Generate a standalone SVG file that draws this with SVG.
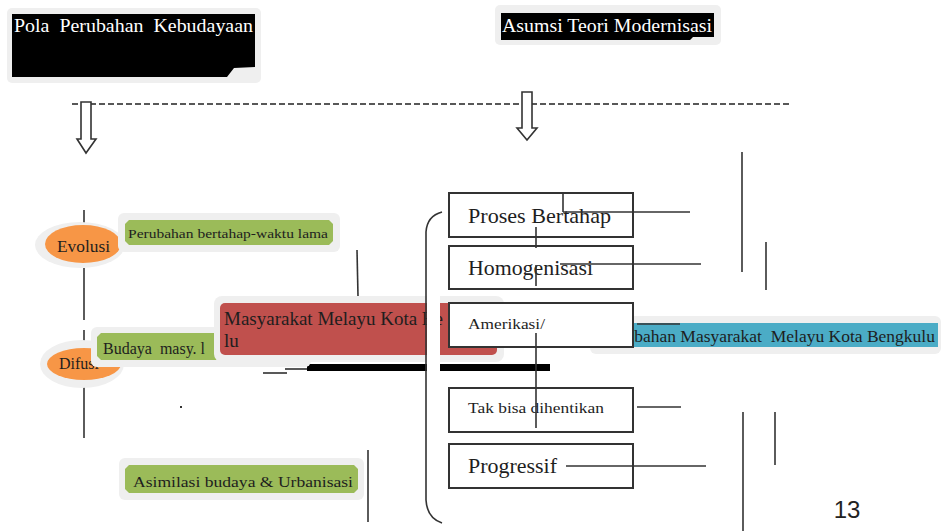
<svg xmlns="http://www.w3.org/2000/svg" width="941" height="531" viewBox="0 0 941 531">
<style>
.halo{fill:#efefef}
.t{font-family:"Liberation Serif","DejaVu Serif",serif;fill:#1e1e1e}
.w{font-family:"Liberation Serif","DejaVu Serif",serif;fill:#ffffff}
.ln{stroke:#333;stroke-width:1.6;fill:none}
.box{fill:#fff;stroke:#333;stroke-width:2}
.green{fill:#9bbb59}
.orange{fill:#f79646}
.red{fill:#c0504d}
.blue{fill:#4bacc6}
</style>
<rect width="941" height="531" fill="#fff"/>

<g id="title1">
<rect class="halo" x="7" y="8" width="254" height="75" rx="5"/>
<polygon points="12,14 255,14 255,67 234,68 227,77 12,77" fill="#000"/>
<text class="w" x="14" y="32" font-size="18" xml:space="preserve" textLength="239" lengthAdjust="spacingAndGlyphs">Pola  Perubahan  Kebudayaan</text>
</g>

<g id="title2">
<rect class="halo" x="495" y="5" width="226" height="40" rx="5"/>
<polygon points="501,13 714,13 714,37 693,37 690,40 501,40" fill="#000"/>
<text class="w" x="502" y="32" font-size="18" textLength="210" lengthAdjust="spacingAndGlyphs">Asumsi Teori Modernisasi</text>
</g>

<g id="connectors">
<line x1="72" y1="104" x2="792" y2="104" stroke="#222" stroke-width="1.4" stroke-dasharray="6,3"/>
<polygon points="81,102 91,102 91,139 96,139 86,153 77,139 81,139" fill="#fff" stroke="#333" stroke-width="1.6"/>
<polygon points="522,92 532,92 532,128 537,128 527,140 517,128 522,128" fill="#fff" stroke="#333" stroke-width="1.6"/>
<line class="ln" x1="84" y1="210" x2="84" y2="223"/>
<line class="ln" x1="84" y1="268" x2="84" y2="320"/>
<line class="ln" x1="84" y1="330" x2="84" y2="342"/>
<line class="ln" x1="84" y1="387" x2="84" y2="438"/>
<line class="ln" x1="357" y1="250" x2="358" y2="296"/>
<line class="ln" x1="368" y1="450" x2="368" y2="522"/>
<line class="ln" x1="742" y1="152" x2="742" y2="272"/>
<line class="ln" x1="766" y1="242" x2="766" y2="290"/>
<line class="ln" x1="743" y1="412" x2="743" y2="531"/>
<line class="ln" x1="775" y1="412" x2="775" y2="465"/>
<rect x="180" y="406" width="2" height="2" fill="#333"/>
</g>

<g id="evolusi">
<ellipse class="halo" cx="80" cy="245" rx="45" ry="23"/>
<ellipse class="orange" cx="83" cy="244" rx="38" ry="19"/>
<text class="t" x="57" y="252" font-size="16" textLength="53" lengthAdjust="spacingAndGlyphs">Evolusi</text>
</g>

<g id="perubahan-bertahap">
<rect class="halo" x="118" y="213" width="222" height="39" rx="6"/>
<polygon class="green" points="129,220 329,220 333,224 333,241 329,245 129,245 125,241 125,224"/>
<text class="t" x="128" y="238" font-size="13" textLength="200" lengthAdjust="spacingAndGlyphs">Perubahan bertahap-waktu lama</text>
</g>

<g id="difusi">
<ellipse class="halo" cx="82" cy="364" rx="42" ry="24"/>
<ellipse class="orange" cx="84" cy="364" rx="37" ry="16"/>
<text class="t" x="59" y="369" font-size="16">Difusi</text>
</g>

<g id="black-bar">
<line x1="263" y1="373" x2="287" y2="373" stroke="#222" stroke-width="1.5"/>
<line x1="285" y1="369" x2="310" y2="369" stroke="#222" stroke-width="1.5"/>
<rect x="307" y="364" width="243" height="7" fill="#000"/>
</g>

<g id="budaya">
<rect class="halo" x="91" y="327" width="220" height="40" rx="6"/>
<polygon class="green" points="101,333 305,333 305,360 101,360 97,356 97,337"/>
<text class="t" x="103" y="354" font-size="16" xml:space="preserve">Budaya  masy. l</text>
</g>

<g id="masyarakat">
<rect class="halo" x="214" y="296" width="290" height="66" rx="8"/>
<rect class="red" x="220" y="303" width="277" height="52" rx="5"/>
<text class="t" x="224" y="325" font-size="19">Masyarakat Melayu Kota Be</text>
<text class="t" x="224" y="347" font-size="19">lu</text>
</g>

<g id="perubahan-masyarakat">
<rect class="halo" x="590" y="316" width="351" height="38" rx="6"/>
<rect class="blue" x="598" y="323" width="340" height="24"/>
<line class="ln" x1="637" y1="324" x2="680" y2="324"/>
<text class="t" x="935" y="342" font-size="17.5" text-anchor="end" xml:space="preserve">Perubahan Masyarakat  Melayu Kota Bengkulu</text>
</g>

<g id="bracket">
<rect x="427" y="212" width="13" height="312" fill="#fff"/>
<path class="ln" d="M442,212 Q427,216 426,232 L426,500 Q427,518 442,523"/>
</g>

<g id="proses-bertahap">
<rect class="box" x="449" y="193" width="184" height="44"/>
<text class="t" x="468" y="223" font-size="21" textLength="143" lengthAdjust="spacingAndGlyphs">Proses Bertahap</text>
</g>

<g id="homogenisasi">
<rect class="box" x="449" y="246" width="184" height="43"/>
<text class="t" x="468" y="275" font-size="21" textLength="125" lengthAdjust="spacingAndGlyphs">Homogenisasi</text>
</g>

<g id="amerikasi">
<rect class="box" x="449" y="303" width="184" height="44"/>
<text class="t" x="468" y="329" font-size="15" textLength="77" lengthAdjust="spacingAndGlyphs">Amerikasi/</text>
</g>

<g id="tak-bisa">
<rect class="box" x="449" y="388" width="184" height="44"/>
<text class="t" x="468" y="413" font-size="15" textLength="136" lengthAdjust="spacingAndGlyphs">Tak bisa dihentikan</text>
</g>

<g id="progressif">
<rect class="box" x="449" y="444" width="184" height="44"/>
<text class="t" x="468" y="473" font-size="21" textLength="89" lengthAdjust="spacingAndGlyphs">Progressif</text>
</g>

<g id="overlay-lines">
<line class="ln" x1="563" y1="192" x2="563" y2="212"/>
<line class="ln" x1="563" y1="212" x2="690" y2="212"/>
<line class="ln" x1="536" y1="227" x2="536" y2="248"/>
<line class="ln" x1="536" y1="265" x2="536" y2="286"/>
<line class="ln" x1="560" y1="264" x2="701" y2="264"/>
<line class="ln" x1="536" y1="333" x2="536" y2="428"/>
<line class="ln" x1="637" y1="407" x2="681" y2="407"/>
<line class="ln" x1="566" y1="466" x2="706" y2="466"/>
</g>

<g id="asimilasi">
<rect class="halo" x="119" y="458" width="245" height="42" rx="6"/>
<polygon class="green" points="129,465 354,465 358,469 358,489 354,493 129,493 125,489 125,469"/>
<text class="t" x="133" y="487" font-size="15" textLength="220" lengthAdjust="spacingAndGlyphs">Asimilasi budaya &amp; Urbanisasi</text>
</g>

<text x="847" y="518" font-family="Liberation Sans, DejaVu Sans, sans-serif" font-size="24" fill="#222" text-anchor="middle">13</text>
</svg>
